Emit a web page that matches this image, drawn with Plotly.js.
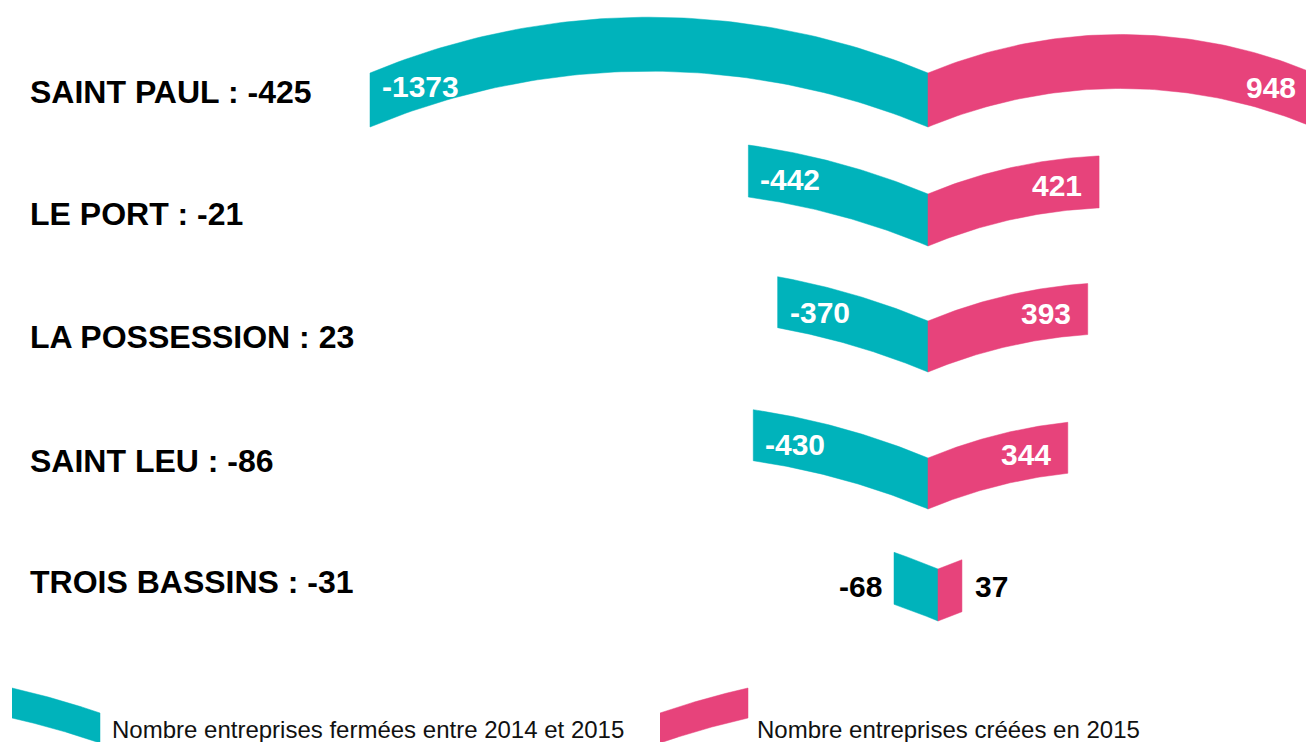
<!DOCTYPE html>
<html>
<head>
<meta charset="utf-8">
<script src="https://cdn.plot.ly/plotly-3.0.1.min.js"></script>
<style>html,body{margin:0;padding:0;background:#fff;}#chart{width:1306px;height:742px;}</style>
</head>
<body>
<div id="chart"></div>
<script>
// ---- data ----
const categories = ['SAINT PAUL', 'LE PORT', 'LA POSSESSION', 'SAINT LEU', 'TROIS BASSINS'];
const fermees = [-1373, -442, -370, -430, -68];   // entreprises fermées entre 2014 et 2015
const creees = [948, 421, 393, 344, 37];          // entreprises créées en 2015
const seriesNames = ['Nombre entreprises fermées entre 2014 et 2015', 'Nombre entreprises créées en 2015'];

// ---- layout / style ----
const W = 1306, H = 742;
const TEAL = '#00B3BB', PINK = '#E7437B';
const FONT = '"Liberation Sans", Arial, sans-serif';
const K = 0.4064, CENTER = 928;          // main scale (px per unit) and zero position
const K2 = 0.647, CENTER2 = 938;         // enlarged scale used for the last row
const rowTop = [73, 194, 321, 458, 569]; // top edge at the joint
const rowThick = [54, 52, 51, 51, 52];
const labelY = [92, 214, 337, 461, 582];
const N = 80;

const hTeal = Math.abs(Math.min(...fermees)) * K / 2;
const hPink = Math.max(...creees) * K / 2;
function arcH(u, h) {
  const s = 0.2 * h, R = (h * h + s * s) / (2 * s), d = u - h;
  return Math.sqrt(Math.max(R * R - d * d, 0)) - (R - s);
}

const traces = [];
const annotations = [];

function addBar(r, v, color, h) {
  const big = r === 4;
  const k = big ? K2 : K;
  const xs = [], ys = [];
  for (let i = 0; i <= N; i++) { const x = v * i / N; xs.push(x); ys.push(rowTop[r] - arcH(Math.abs(x) * k, h)); }
  for (let i = N; i >= 0; i--) { const x = v * i / N; xs.push(x); ys.push(rowTop[r] - arcH(Math.abs(x) * k, h) + rowThick[r]); }
  xs.push(xs[0]); ys.push(ys[0]);
  traces.push({type: 'scatter', mode: 'lines', x: xs, y: ys, xaxis: big ? 'x2' : 'x', yaxis: 'y',
    fill: 'toself', fillcolor: color, line: {color: color, width: 0.5}, hoverinfo: 'skip', showlegend: false});
}

categories.forEach((cat, r) => {
  addBar(r, fermees[r], TEAL, hTeal);
  addBar(r, creees[r], PINK, hPink);
  const net = creees[r] + fermees[r];
  annotations.push({xref: 'paper', yref: 'y', x: 28 / W, y: labelY[r], xanchor: 'left', yanchor: 'middle',
    text: '<b>' + cat + ' : ' + net + '</b>', showarrow: false, font: {family: FONT, size: 32, color: '#000'}});
  if (r < 4) {
    const padT = 10, padP = 15;
    const uT = Math.abs(fermees[r]) * K - padT - 30;
    const uP = creees[r] * K - padP - 22;
    annotations.push({xref: 'x', yref: 'y', x: fermees[r] + padT / K, xanchor: 'left',
      y: rowTop[r] - arcH(uT, hTeal) + rowThick[r] / 2, yanchor: 'middle', yshift: -2,
      text: '<b>' + fermees[r] + '</b>', showarrow: false, font: {family: FONT, size: 30, color: '#fff'}});
    annotations.push({xref: 'x', yref: 'y', x: creees[r] - padP / K, xanchor: 'right',
      y: rowTop[r] - arcH(uP, hPink) + rowThick[r] / 2, yanchor: 'middle', yshift: -1,
      text: '<b>' + creees[r] + '</b>', showarrow: false, font: {family: FONT, size: 30, color: '#fff'}});
  } else {
    annotations.push({xref: 'x2', yref: 'y', x: fermees[r] - 10 / K2, xanchor: 'right',
      y: labelY[r] + 4, yanchor: 'middle', text: '<b>' + fermees[r] + '</b>', showarrow: false,
      font: {family: FONT, size: 30, color: '#000'}});
    annotations.push({xref: 'x2', yref: 'y', x: creees[r] + 11 / K2, xanchor: 'left',
      y: labelY[r] + 4, yanchor: 'middle', text: '<b>' + creees[r] + '</b>', showarrow: false,
      font: {family: FONT, size: 30, color: '#000'}});
  }
});

// ---- legend swatches (decorative, pixel axis x3) ----
function swatch(x0, w, yTopHigh, drop, thick, color, descending) {
  const xs = [], ys = [];
  const uMax = w;
  const hMax = arcH(uMax, hTeal);
  for (let i = 0; i <= N; i++) {
    const t = i / N, px = x0 + w * t;
    const u = descending ? (1 - t) * uMax : t * uMax;
    xs.push(px); ys.push(yTopHigh + drop * (1 - arcH(u, hTeal) / hMax));
  }
  for (let i = N; i >= 0; i--) {
    const t = i / N, px = x0 + w * t;
    const u = descending ? (1 - t) * uMax : t * uMax;
    xs.push(px); ys.push(yTopHigh + drop * (1 - arcH(u, hTeal) / hMax) + thick);
  }
  traces.push({type: 'scatter', mode: 'lines', x: xs, y: ys, xaxis: 'x3', yaxis: 'y', fill: 'toself',
    fillcolor: color, line: {color: color, width: 0.5}, hoverinfo: 'skip', showlegend: false});
}
swatch(12, 88, 688, 25, 30, TEAL, true);
swatch(660, 88, 688, 25, 30, PINK, false);
annotations.push({xref: 'paper', yref: 'y', x: 110 / W, y: 729, xanchor: 'left', yanchor: 'middle',
  text: seriesNames[0], showarrow: false, font: {family: FONT, size: 24, color: '#111'}});
annotations.push({xref: 'paper', yref: 'y', x: 755 / W, y: 729, xanchor: 'left', yanchor: 'middle',
  text: seriesNames[1], showarrow: false, font: {family: FONT, size: 24, color: '#111'}});

const hidden = {showgrid: false, zeroline: false, showticklabels: false, ticks: '', showline: false, fixedrange: true};
const layout = {
  width: W, height: H, margin: {l: 0, r: 0, t: 0, b: 0, pad: 0},
  paper_bgcolor: '#fff', plot_bgcolor: '#fff', showlegend: false,
  xaxis: Object.assign({range: [-CENTER / K, (W - CENTER) / K], domain: [0, 1]}, hidden),
  xaxis2: Object.assign({range: [-CENTER2 / K2, (W - CENTER2) / K2], overlaying: 'x', anchor: 'y', domain: [0, 1]}, hidden),
  xaxis3: Object.assign({range: [0, W], overlaying: 'x', anchor: 'y', domain: [0, 1]}, hidden),
  yaxis: Object.assign({range: [H, 0], domain: [0, 1]}, hidden),
  annotations: annotations
};
Plotly.newPlot('chart', traces, layout, {displayModeBar: false, staticPlot: true});
</script>
</body>
</html>
